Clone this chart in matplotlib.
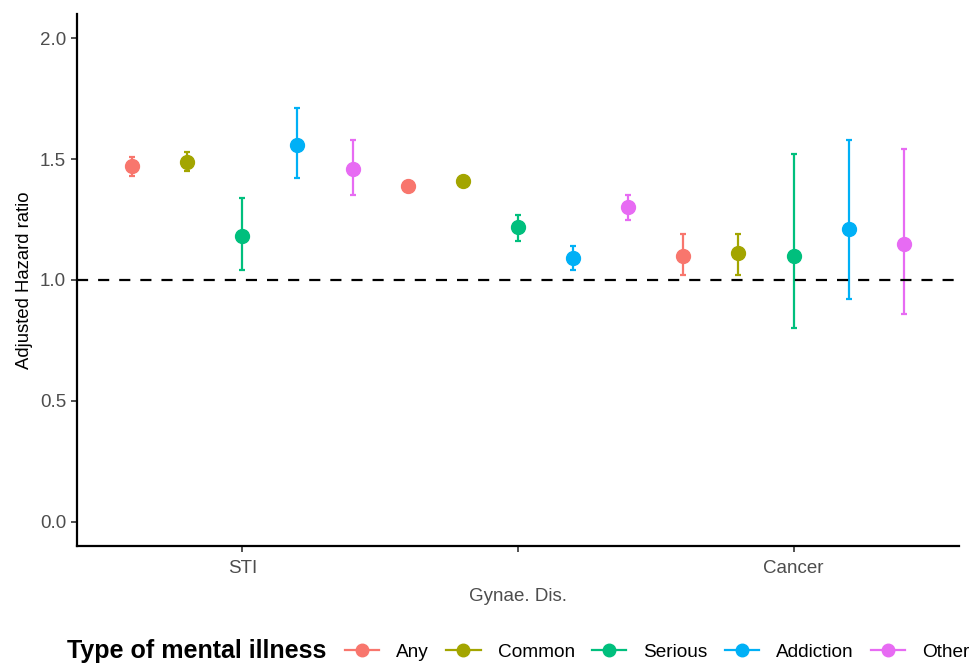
import numpy as np
import matplotlib.pyplot as plt
from matplotlib.lines import Line2D

plt.rcParams['font.family'] = ['Liberation Sans', 'DejaVu Sans']

# data
diseases = ['STI', 'Gynae. Dis.', 'Cancer']
groups = ['Any', 'Common', 'Serious', 'Addiction', 'Other']
colours = ['#F8766D', '#A3A500', '#00BF7D', '#00B0F6', '#E76BF3']

hr = [[1.47, 1.49, 1.18, 1.56, 1.46],
      [1.39, 1.41, 1.22, 1.09, 1.30],
      [1.10, 1.11, 1.10, 1.21, 1.15]]
lower = [[1.43, 1.45, 1.04, 1.42, 1.35],
         [1.38, 1.40, 1.16, 1.04, 1.25],
         [1.02, 1.02, 0.80, 0.92, 0.86]]
upper = [[1.51, 1.53, 1.34, 1.71, 1.58],
         [1.40, 1.42, 1.27, 1.14, 1.35],
         [1.19, 1.19, 1.52, 1.58, 1.54]]

hr = np.array(hr)
lower = np.array(lower)
upper = np.array(upper)

fig = plt.figure(figsize=(9.7, 6.64), dpi=100)
ax = fig.add_axes([77/970, 1-546/664, (959-77)/970, (546-14)/664])

x = np.arange(1, len(diseases)+1)
dodge = 0.2
for j, g in enumerate(groups):
    xs = x + (j-2)*dodge
    ys = hr[:, j]
    ax.errorbar(xs, ys, yerr=[ys-lower[:, j], upper[:, j]-ys], fmt='none',
                ecolor=colours[j], elinewidth=1.6, capsize=2.2, capthick=1.6, zorder=2)
    ax.plot(xs, ys, 'o', color=colours[j], markersize=10, zorder=3)

ax.axhline(1.0, color='black', linestyle=(0, (5, 4.5)), linewidth=1.6, zorder=4)

ax.set_xlim(0.4, 3.6)
ax.set_ylim(-0.1, 2.1)
ax.set_yticks([0.0, 0.5, 1.0, 1.5, 2.0])
ax.set_yticklabels(['0.0', '0.5', '1.0', '1.5', '2.0'])
ax.set_xticks(x)
ax.set_xticklabels(diseases)

for s in ['top', 'right']:
    ax.spines[s].set_visible(False)
for s in ['left', 'bottom']:
    ax.spines[s].set_linewidth(1.6)
ax.tick_params(length=4.3, width=1.2, color='#333333', labelcolor='#4d4d4d', labelsize=13.5)
ax.tick_params(axis='x', pad=6)
ax.xaxis.get_major_ticks()[1].set_pad(26)
ax.set_ylabel('Adjusted Hazard ratio', fontsize=13.3, labelpad=5)

# legend
fig.text(67/970, 1-651/664, 'Type of mental illness', fontsize=18, fontweight='bold', va='center')
handles = [Line2D([0], [0], color=c, marker='o', markersize=9, linewidth=1.6) for c in colours]
fig.legend(handles, groups, ncol=5, loc='center left', bbox_to_anchor=(345/970, 1-652/664),
           frameon=False, fontsize=13.7, handlelength=1.8, handletextpad=0.9,
           columnspacing=0.9, borderpad=0, borderaxespad=0)

fig.savefig('out.png', dpi=100)
